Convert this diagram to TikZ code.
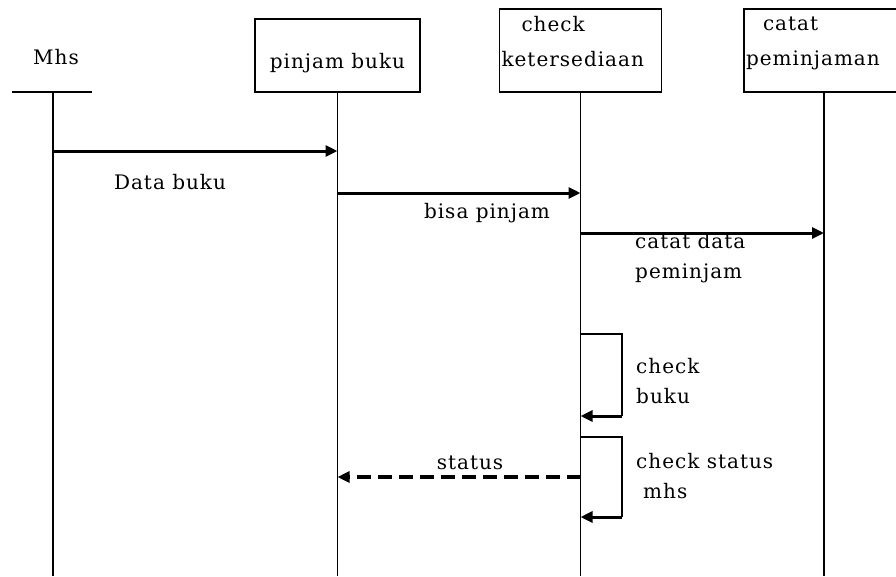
\documentclass[tikz,border=0pt]{standalone}
\usepackage{fontspec}
\setmainfont[LetterSpace=5]{DejaVu Serif}
\usetikzlibrary{positioning}
\usetikzlibrary{arrows.meta}
\tikzstyle{lifebox} = [rectangle, draw=black, line width=1.2pt, inner xsep=2pt, align=left, font=\fontsize{20}{30}\selectfont]
\tikzstyle{lifeline} = [line width=1.2pt]
\tikzstyle{msg} = [line width=3pt, -{Triangle[length=12pt,width=11pt]}]
\tikzstyle{reply} = [msg, dash pattern=on 14pt off 7pt, line width=4pt]
\tikzstyle{lbl} = [align=left, inner sep=0pt, font=\fontsize{20}{30}\selectfont]

\begin{document}
\begin{tikzpicture}[x=1pt, y=-1pt]
	\useasboundingbox (0,0) rectangle (896,576);
	
	\node (mhs) [lbl] at (56,57) {Mhs};
	\coordinate (mhsBar) at (53,92);
	
	\node (pinjam) [lifebox, align=center, minimum width=165pt, minimum height=73pt, text height=30pt] at (337.5,55.5) {pinjam buku};
	
	\node (cek) [lifebox, text width=158pt, minimum height=83pt, text depth=54pt] at (580.5,50.5) {\hspace*{20pt}check\\[5pt]ketersediaan};
	
	\node (catat) [lifebox, text width=156pt, minimum height=83pt, text depth=54pt] at (824,50.5) {\hspace*{17pt}catat\\[5pt]peminjaman};
	
	\coordinate (bottom) at (0,576);
	\coordinate (m1) at (0,151);
	\coordinate (m2) at (0,193);
	\coordinate (m3) at (0,233);
	\coordinate (m4) at (0,477);
	\coordinate (s1top) at (622,334);
	\coordinate (s1bot) at (622,416);
	\coordinate (s2top) at (622,437);
	\coordinate (s2bot) at (622,517);
	
	\draw [lifeline] ([xshift=-41pt]mhsBar) -- ([xshift=39pt]mhsBar);
	\draw [lifeline] (mhsBar) -- (mhsBar |- bottom);
	\draw [lifeline] (pinjam) -- (pinjam |- bottom);
	\draw [lifeline] (cek) -- (cek |- bottom);
	\draw [lifeline] (catat) -- (catat |- bottom);
	
	\draw [msg] (mhsBar |- m1) -- (pinjam |- m1);
	\draw [msg] (pinjam |- m2) -- (cek |- m2);
	\draw [msg] (cek |- m3) -- (catat |- m3);
	
	\draw [lifeline] (cek |- s1top) -- (s1top) -- (s1bot);
	\draw [msg] (s1bot) -- (cek |- s1bot);
	\draw [lifeline] (cek |- s2top) -- (s2top) -- (s2bot);
	\draw [msg] (s2bot) -- (cek |- s2bot);
	
	\draw [reply] (cek |- m4) -- (pinjam |- m4);
	
	\node (dataBuku) [lbl] at (170,182) {Data buku};
	\node (bisaPinjam) [lbl] at (487,213) {bisa pinjam};
	\node (catatData) [lbl, anchor=west] at (635,258) {catat data\\peminjam};
	\node (cekBuku) [lbl, anchor=west] at (636,381) {check\\buku};
	\node (cekStatus) [lbl, anchor=west] at (636,476) {check status\\\hspace*{7pt}mhs};
	\node (status) [lbl] at (470,463) {status};
\end{tikzpicture}
\end{document}
